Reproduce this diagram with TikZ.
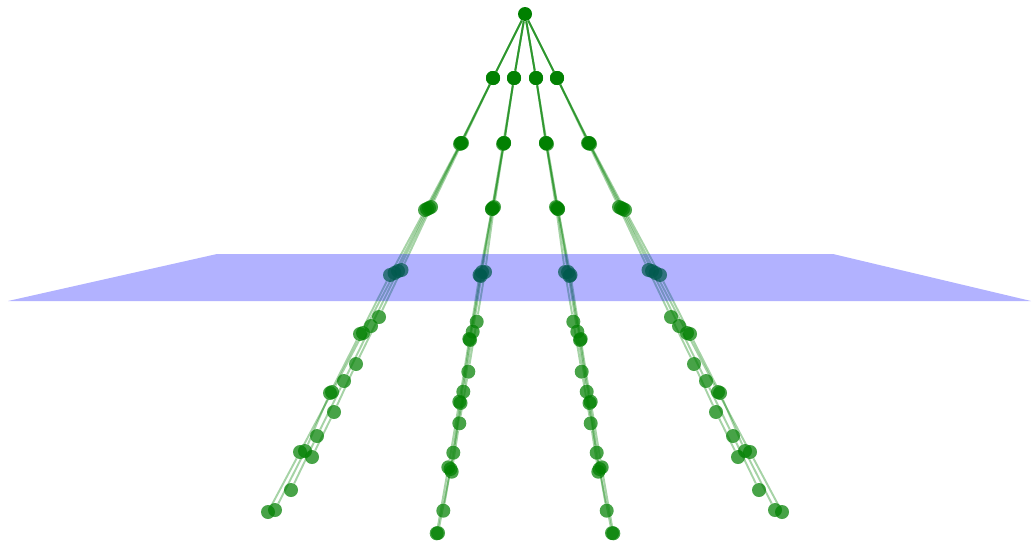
\documentclass[tikz,border=0pt]{standalone}
\definecolor{treegreen}{RGB}{0,128,0}
\pgfdeclarelayer{background}
\pgfdeclarelayer{front}
\pgfsetlayers{background,main,front}
\begin{document}
\begin{tikzpicture}[x=0.02cm,y=-0.02cm,
  vertex/.style={circle,fill=treegreen,fill opacity=.72,inner sep=0pt,minimum size=0.28cm},
  strand/.style={draw=treegreen,draw opacity=.35,line width=1.1pt},
  plane/.style={fill=blue,fill opacity=.3}]
\useasboundingbox (0,0) rectangle (1033,541);
\node[vertex,fill opacity=1] (root) at (525,14) {};
\foreach \side/\sg in {l/-1,r/1}{
  \foreach \br/\st/\pts in {
    o/a/{32/78,63/143,94/207,123.5/270,146/317,169/364,191/412,213/457},
    o/b/{32/78,64/143,96/208,127/271,154/326,181/381,208/436,234/490},
    o/c/{32/78,64/143,98/209,130.5/273,162/333,193/392,225/452,257/512},
    o/d/{32/78,65/144,100/210,135/275,165/334,195/393,220/451,250/510},
    i/a/{11/78,21/143,31/207,40/272,48.3/321.7,56.7/371.7,65.7/423.3,73.3/471.7},
    i/b/{11/78,21/143,32/208,43/272,52.3/331.7,61.7/391.7,71.7/452.7,81.7/510.7},
    i/c/{11/78,21/143,33/209,45.5/275,55.7/339,65.7/401.7,76.7/467.3,88.3/533.3},
    i/d/{11/78,22/144,33/209,44.5/276,55/340,64.5/403,74.5/469,87/533}}{
    \foreach \dx/\y [count=\k, remember=\k as \pk (initially 0)] in \pts{
      \pgfmathsetmacro\xx{525+(\sg)*(\dx)}
      \node[vertex] (\side\br\st\k) at (\xx,\y) {};
      \begin{pgfonlayer}{background}
        \ifnum\k=1
          \draw[strand] (root) -- (\side\br\st\k);
        \else
          \draw[strand] (\side\br\st\pk) -- (\side\br\st\k);
        \fi
      \end{pgfonlayer}
    }
  }
}
\begin{pgfonlayer}{front}
  \fill[plane] (217,254) -- (833,254) -- (1031,301) -- (8,301) -- cycle;
\end{pgfonlayer}
\end{tikzpicture}
\end{document}
